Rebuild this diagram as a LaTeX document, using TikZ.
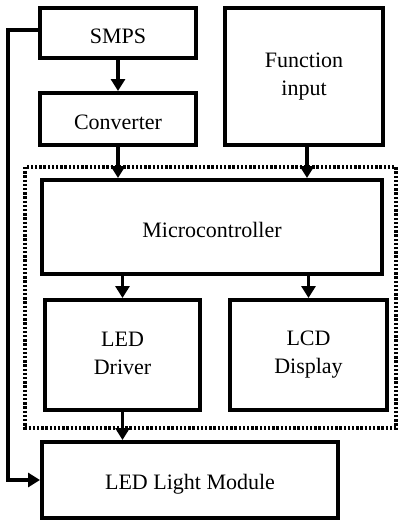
\documentclass[tikz,border=0pt]{standalone}
\usepackage{fontspec}
\setmainfont{Liberation Serif}
\usepackage{tikz}
\usetikzlibrary{arrows.meta}

\newcommand{\blockstrut}{\rule[-2pt]{0pt}{14pt}}

\begin{document}
\begin{tikzpicture}[x=0.5pt, y=-0.5pt, >={Triangle[width=7pt, length=6pt]}, font=\fontsize{11}{14}\selectfont,
    block/.style={draw, line width=2pt, align=center, inner sep=0pt,
        execute at begin node=\blockstrut, execute at end node=\blockstrut},
    flow/.style={->, line width=1.8pt}]
    \useasboundingbox (0,0) rectangle (398,520);
    % blocks
    \node [block, minimum width=78pt, minimum height=25pt] (smps) at (118,33) {SMPS};
    \node [block, minimum width=78pt, minimum height=26pt] (conv) at (118,119) {Converter};
    \node [block, minimum width=79pt, minimum height=68.5pt] (func) at (304,76.5) {Function\\input};
    \node [block, minimum width=170pt, minimum height=47pt] (micro) at (212,227) {Microcontroller};
    \node [block, minimum width=77.5pt, minimum height=55pt] (drv) at (122.5,355) {LED\\Driver};
    \node [block, minimum width=78.5pt, minimum height=55pt] (lcd) at (308.5,355) {LCD\\Display};
    \node [block, minimum width=148pt, minimum height=38pt] (llm) at (190,480) {LED Light Module};
    % control unit
    \draw [line width=1.6pt, dash pattern=on 1.2pt off 0.9pt] (25,167) rectangle (396,428);
    % connections
    \draw [flow] (smps) -- (conv);
    \draw [flow] (conv) -- (conv |- micro.north);
    \draw [flow] (func.south -| 307,0) -- (micro.north -| 307,0);
    \draw [flow] (micro.south -| drv) -- (drv);
    \draw [flow] (micro.south -| lcd) -- (lcd);
    \draw [flow] (drv) -- (drv |- llm.north);
    \draw [flow] ([yshift=1.5pt]smps.west) -- ++(-30,0) |- (llm.west);
\end{tikzpicture}
\end{document}
